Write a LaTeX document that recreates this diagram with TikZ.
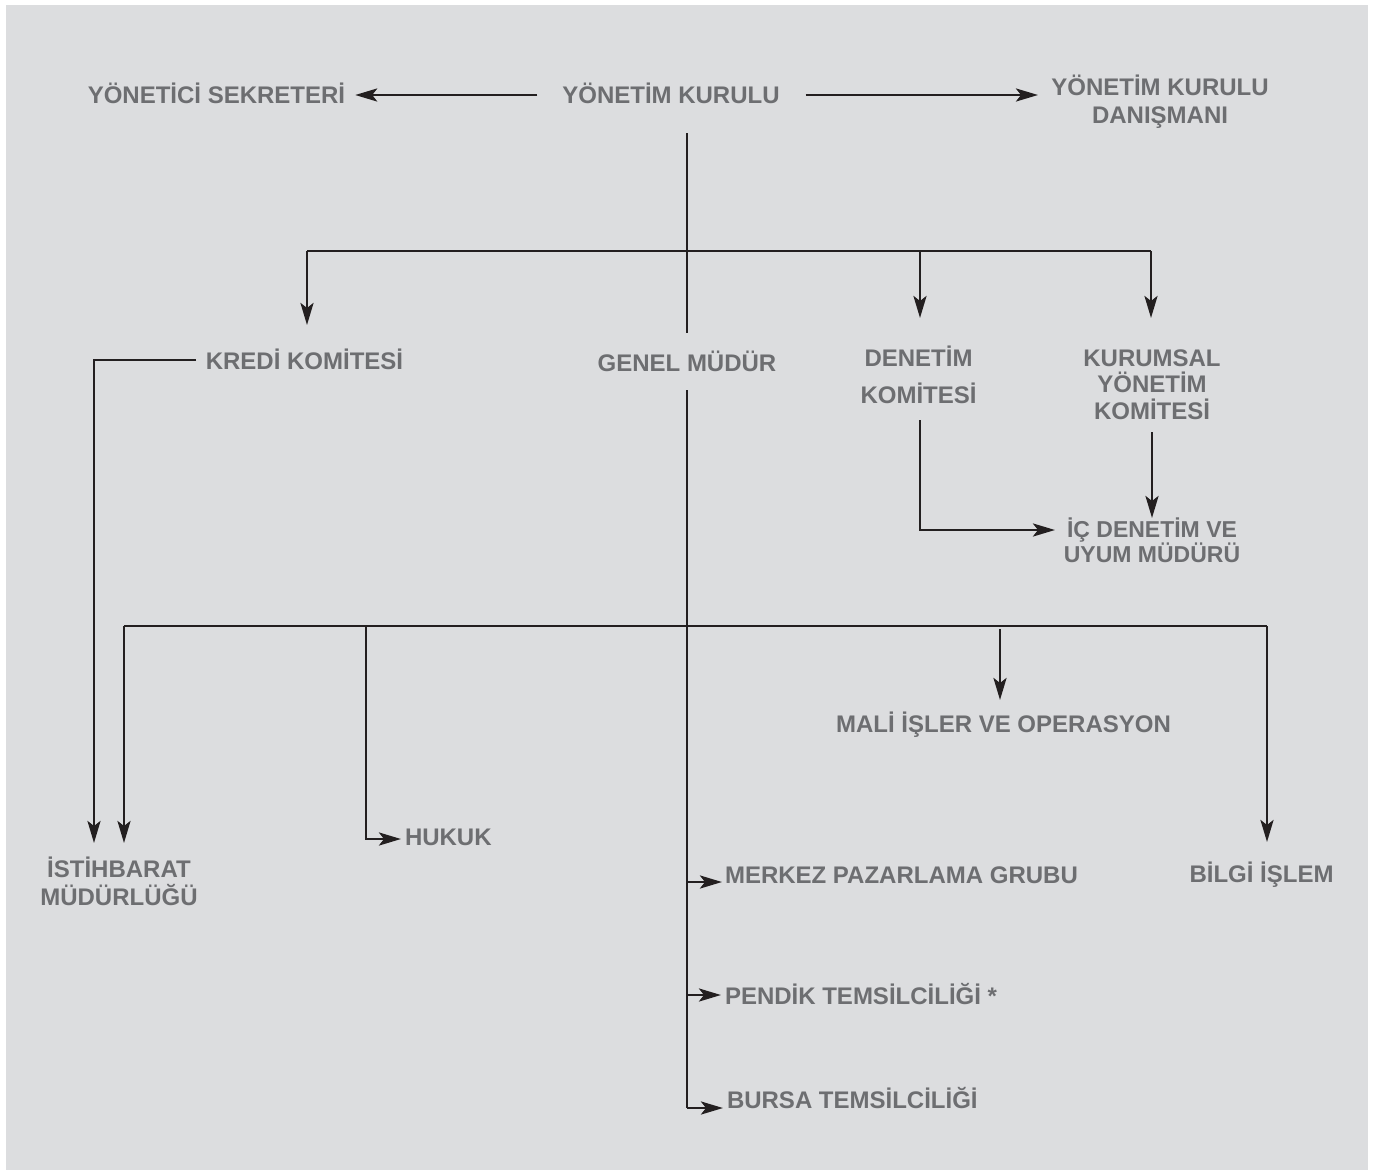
\documentclass[tikz,border=0pt]{standalone}
\usepackage{fontspec}
\setmainfont{Liberation Sans}
\usetikzlibrary{arrows.meta,calc}
\definecolor{bgc}{HTML}{DCDDDF}
\definecolor{txtc}{HTML}{6D6E71}
\definecolor{lnc}{HTML}{231F20}
\begin{document}
\begin{tikzpicture}[x=1pt,y=-1pt,
  lbl/.style={font=\bfseries\fontsize{24}{27}\selectfont, text=txtc, inner sep=0pt, outer sep=0pt},
  sl/.style={lbl, text height=17pt, text depth=0pt},
  ml/.style={lbl, align=center, anchor=base},
  conn/.style={draw=lnc, line width=2.8pt},
  arr/.style={conn, -{Stealth[length=22pt,width=13pt,inset=5pt]}}]
\fill[white] (0,0) rectangle (1381,1173);
\fill[bgc] (6,5) rectangle (1368,1170);
\useasboundingbox (0,0) rectangle (1381,1173);

% nodes
\node[sl] (ys) at (216.5,95) {YÖNETİCİ SEKRETERİ};
\node[sl] (yk) at (671,95) {YÖNETİM KURULU};
\node[ml, font=\bfseries\fontsize{24}{28}\selectfont] (ykd) at (1160,123) {YÖNETİM KURULU\\DANIŞMANI};
\node[sl] (kk) at (304.5,361) {KREDİ KOMİTESİ};
\node[sl] (gm) at (687,363) {GENEL MÜDÜR};
\node[ml, font=\bfseries\fontsize{24}{36.5}\selectfont] (dk) at (918.5,403) {DENETİM\\KOMİTESİ};
\node[ml, font=\bfseries\fontsize{24}{26.3}\selectfont] (kym) at (1152,419) {KURUMSAL\\YÖNETİM\\KOMİTESİ};
\node[ml, font=\bfseries\fontsize{23}{24.5}\selectfont] (ic) at (1152,562) {İÇ DENETİM VE\\UYUM MÜDÜRÜ};
\node[sl] (mali) at (1003.5,724) {MALİ İŞLER VE OPERASYON};
\node[sl, anchor=west] (huk) at (405,836.5) {HUKUK};
\node[ml, font=\bfseries\fontsize{24}{27.5}\selectfont] (ist) at (119,905) {İSTİHBARAT\\MÜDÜRLÜĞÜ};
\node[sl, anchor=west] (mpg) at (725,874.5) {MERKEZ PAZARLAMA GRUBU};
\node[sl, anchor=west] (pen) at (725,996) {PENDİK TEMSİLCİLİĞİ *};
\node[sl, anchor=west] (bur) at (727,1100) {BURSA TEMSİLCİLİĞİ};
\node[sl] (bil) at (1261.5,874) {BİLGİ İŞLEM};

% junction / end coordinates
\coordinate (ykin) at (1038,95);
\coordinate (t1) at (687,133);
\coordinate (t2) at (687,333);
\coordinate (b1l) at (307,251);
\coordinate (b1d) at (920,251);
\coordinate (b1r) at (1151,251);
\coordinate (kkend) at (307,325);
\coordinate (dkend) at (920,318);
\coordinate (kyend) at (1151,318);
\coordinate (kkl) at (196,360);
\coordinate (kkc) at (94,360);
\coordinate (istA) at (94,843);
\coordinate (dks) at (920,420);
\coordinate (dkc) at (920,530);
\coordinate (icin) at (1055,530);
\coordinate (kys) at (1152,432);
\coordinate (icup) at (1152,518);
\coordinate (g1) at (687,390);
\coordinate (g2) at (687,1108);
\coordinate (b2l) at (124,626);
\coordinate (b2h) at (366,626);
\coordinate (b2m) at (1000,629);
\coordinate (b2r) at (1267,626);
\coordinate (istB) at (124,843);
\coordinate (hukc) at (366,839);
\coordinate (hukin) at (401,839);
\coordinate (maliin) at (1000,700);
\coordinate (bilin) at (1267,842);
\coordinate (mpgj) at (687,882);
\coordinate (mpgin) at (722,882);
\coordinate (penj) at (687,995);
\coordinate (penin) at (721,995);
\coordinate (burin) at (723,1108);

% connectors
\draw[arr] ($(yk.west)+(-25,0)$) -- ($(ys.east)+(10,0)$);
\draw[arr] ($(yk.east)+(26,0)$) -- (ykin);
\draw[conn] (t1) -- (t2);
\draw[conn] (b1l) -- (b1r);
\draw[arr] (b1l) -- (kkend);
\draw[arr] (b1d) -- (dkend);
\draw[arr] (b1r) -- (kyend);
\draw[arr] (kkl) -- (kkc) -- (istA);
\draw[arr] (dks) -- (dkc) -- (icin);
\draw[arr] (kys) -- (icup);
\draw[conn] (g1) -- (g2);
\draw[conn] (b2l) -- (b2r);
\draw[arr] (b2l) -- (istB);
\draw[arr] (b2h) -- (hukc) -- (hukin);
\draw[arr] (b2m) -- (maliin);
\draw[arr] (b2r) -- (bilin);
\draw[arr] (mpgj) -- (mpgin);
\draw[arr] (penj) -- (penin);
\draw[arr] (g2) -- (burin);
\end{tikzpicture}
\end{document}
